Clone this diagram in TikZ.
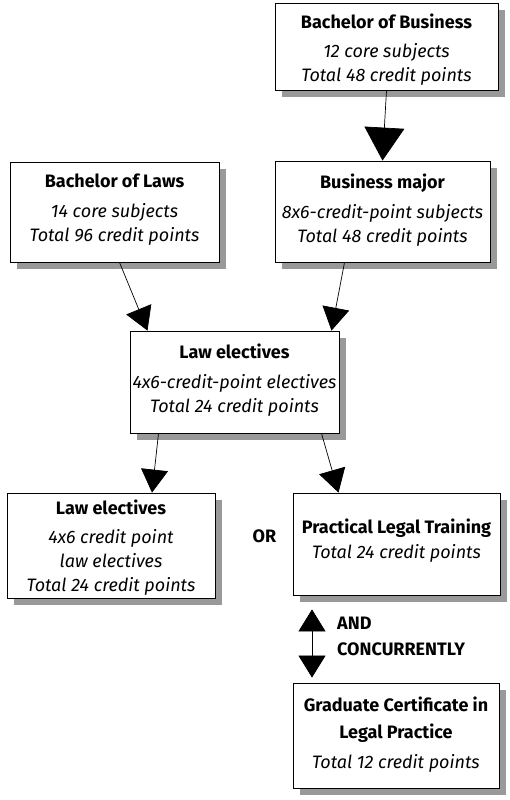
\documentclass[tikz,border=0pt]{standalone}
\usepackage{fontspec}
\setmainfont{Fira Sans}
\usetikzlibrary{arrows.meta,shadows}
\begin{document}
\begin{tikzpicture}[x=1pt,y=-1pt,
  box/.style={draw=black, line width=0.8pt, fill=white, inner sep=0pt,
    drop shadow={shadow xshift=7pt, shadow yshift=-7pt, fill=black!40, opacity=1}},
  txt/.style={anchor=north, align=center, inner sep=0pt, font=\fontsize{18}{24}\selectfont},
  lbl/.style={font=\fontsize{18}{20}\selectfont\bfseries, inner sep=0pt, align=left},
  arr/.style={line width=0.7pt, -{Triangle[width=27pt,length=23pt]}},
  dbl/.style={line width=0.7pt, {Triangle[width=27pt,length=22pt]}-{Triangle[width=27pt,length=22pt]}},
]
\useasboundingbox (0,0) rectangle (509,800);

% course boxes
\node[box, minimum width=223pt, minimum height=87pt]  (bb)   at (386.5,46.5) {};
\node[box, minimum width=209pt, minimum height=100pt] (laws) at (114.5,212) {};
\node[box, minimum width=215pt, minimum height=101pt] (bm)   at (382.5,211.5) {};
\node[box, minimum width=209pt, minimum height=102pt] (mid)  at (234.5,382) {};
\node[box, minimum width=208pt, minimum height=105pt] (le)   at (111,545.5) {};
\node[box, minimum width=207pt, minimum height=102pt] (plt)  at (396.5,544) {};
\node[box, minimum width=206pt, minimum height=105pt] (gc)   at (396,735.5) {};

% box texts
\node[txt] (bbt) at (386.5,14) {\textbf{Bachelor of Business}\\[5pt]\textit{12 core subjects}\\\textit{Total 48 credit points}};
\node[txt] (lawst) at (114.5,174) {\textbf{Bachelor of Laws}\\[6pt]\textit{14 core subjects}\\\textit{Total 96 credit points}};
\node[txt] (bmt) at (382.5,174) {\textbf{Business major}\\[6pt]\textit{8x6-credit-point subjects}\\\textit{Total 48 credit points}};
\node[txt] (midt) at (234.5,344) {\textbf{Law electives}\\[6pt]\textit{4x6-credit-point electives}\\\textit{Total 24 credit points}};
\node[txt] (let) at (111,500) {\textbf{Law electives}\\[5pt]\textit{4x6 credit point}\\\textit{law electives}\\\textit{Total 24 credit points}};
\node[txt] (pltt) at (396.5,519) {\textbf{Practical Legal Training}\\[1pt]\textit{Total 24 credit points}};
\node[txt] (gct) at (396,697) {\textbf{Graduate Certificate in}\\[3pt]\textbf{Legal Practice}\\[6pt]\textit{Total 12 credit points}};

% free labels
\node[lbl, anchor=base] (or) at (264.5,542) {OR};
\node[lbl, anchor=north west] (and) at (337,617) {AND\\[6pt]CONCURRENTLY};

% connectors
\draw[line width=0.7pt, -{Triangle[width=40pt,length=33pt]}] (bb.south) -- (bm.north);
\draw[arr] ([xshift=5pt]laws.south) -- ([xshift=-87pt]mid.north);
\draw[arr] ([xshift=-38pt]bm.south) -- ([xshift=97pt]mid.north);
\draw[arr] ([xshift=-76pt]mid.south) -- ([xshift=41pt]le.north);
\draw[arr] ([xshift=87pt]mid.south) -- ([xshift=-58pt]plt.north);
\coordinate (dx) at (312,0);
\draw[dbl, shorten <=14pt, shorten >=5pt] (plt.south -| dx) -- (gc.north -| dx);
\end{tikzpicture}
\end{document}
